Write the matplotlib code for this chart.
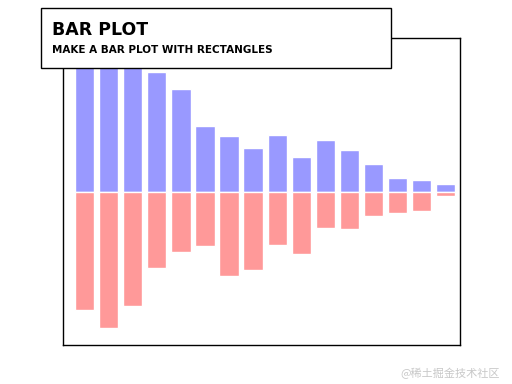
import numpy as np
import matplotlib
matplotlib.use("Agg")
import matplotlib.pyplot as plt
from matplotlib.patches import Rectangle

# bar heights (top = blue, bottom = red)
n = 16
X = np.arange(n)
Y1 = [1.05, 1.10, 1.02, 0.97, 0.836, 0.535, 0.448, 0.358,
      0.464, 0.285, 0.423, 0.342, 0.22, 0.106, 0.09, 0.065]
Y2 = [0.963, 1.11, 0.934, 0.624, 0.491, 0.445, 0.69, 0.64,
      0.437, 0.51, 0.299, 0.307, 0.201, 0.175, 0.159, 0.038]

title = "BAR PLOT"
subtitle = "MAKE A BAR PLOT WITH RECTANGLES"
watermark = "@稀土掘金技术社区"

fig = plt.figure(figsize=(5.12, 3.84), dpi=100)
ax = fig.add_axes([63/512, 39/384, 397/512, 307/384])

ax.bar(X, Y1, width=0.8, align="edge", facecolor="#9999ff", edgecolor="white")
ax.bar(X, [-v for v in Y2], width=0.8, align="edge", facecolor="#ff9999", edgecolor="white")

ax.set_xlim(-0.5, n)
ax.set_ylim(-1.25, 1.25)
ax.set_xticks([])
ax.set_yticks([])
for s in ax.spines.values():
    s.set_linewidth(1.0)
    s.set_color("black")

# title box on top of the axes
box = Rectangle((41/512, 1 - 68/384), 350/512, 60/384, transform=fig.transFigure,
                facecolor="white", edgecolor="black", linewidth=1.0, zorder=10)
fig.add_artist(box)
fig.text(52/512, 1 - 35/384, title, fontsize=12.5, fontweight="bold",
         ha="left", va="baseline", zorder=11)
fig.text(52/512, 1 - 53/384, subtitle, fontsize=7.5, fontweight="bold",
         ha="left", va="baseline", zorder=11)

fig.text(500/512, 1 - 377/384, watermark, fontsize=8, color="#c8c8c8",
         ha="right", va="baseline", family=["Noto Sans CJK SC", "DejaVu Sans"])

fig.savefig("out.png", dpi=100)
